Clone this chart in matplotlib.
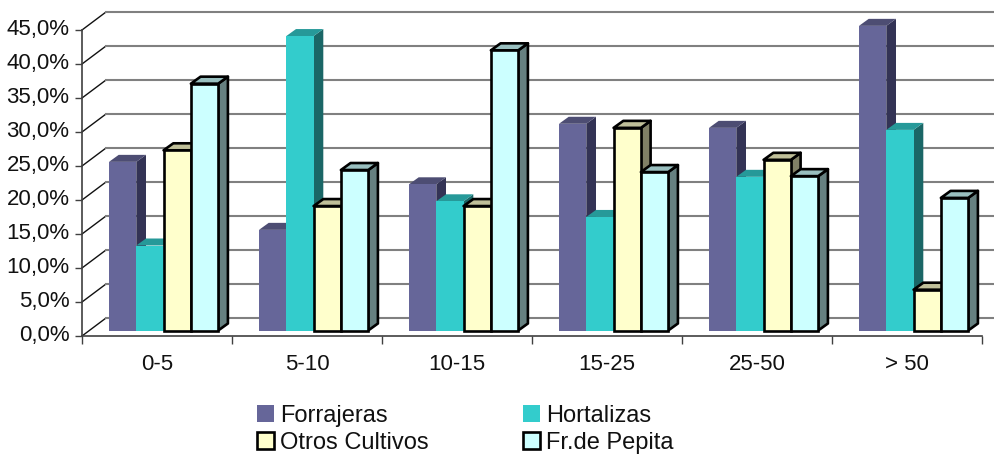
import matplotlib.pyplot as plt
from matplotlib.patches import Patch, Polygon
from matplotlib.transforms import ScaledTranslation

categories = ["0-5", "5-10", "10-15", "15-25", "25-50", "> 50"]
forrajeras = [24.8, 14.8, 21.5, 30.4, 29.8, 44.8]
hortalizas = [12.5, 43.3, 19.0, 16.7, 22.6, 29.5]
otros = [26.5, 18.3, 18.3, 29.8, 25.1, 6.0]
pepita = [36.3, 23.6, 41.2, 23.3, 22.7, 19.5]
y_ticks = [0, 5, 10, 15, 20, 25, 30, 35, 40, 45]

W, H = 995, 458
PX_X = 150.0  # pixels per category
PX_Y = 6.8  # pixels per percent point
FONT = ["Liberation Sans", "DejaVu Sans"]


def px_dx(p):
    return p / PX_X


def px_dy(p):
    return p / PX_Y


plt.rcParams["font.family"] = FONT

fig = plt.figure(figsize=(W / 100, H / 100), dpi=100)
ax = fig.add_axes([82 / W, 1 - 336 / H, 900 / W, 306 / H])
ax.set_xlim(0, 6)
ax.set_ylim(0, 45)
ax.patch.set_visible(False)

# back wall and side wall grid
wall_dx, wall_dy = px_dx(24), px_dy(18)
for tick in y_ticks:
    ax.plot([0, wall_dx], [tick, tick + wall_dy], color="#111111", lw=1.0,
            clip_on=False, zorder=1)
    ax.plot([wall_dx, 6 + wall_dx], [tick + wall_dy] * 2, color="#808080", lw=1.5,
            clip_on=False, zorder=1)

series = [
    ("Forrajeras", forrajeras, "#666699", "#333355", "#4D4D73", "none"),
    ("Hortalizas", hortalizas, "#33CCCC", "#1A6666", "#269999", "none"),
    ("Otros Cultivos", otros, "#FFFFCC", "#808066", "#BFBF99", "black"),
    ("Fr.de Pepita", pepita, "#CCFFFF", "#668080", "#99BFBF", "black"),
]

bar_w = px_dx(27.3)
base_dx, base_dy = px_dx(6.5), px_dy(5.5)
depth_dx, depth_dy = px_dx(9.7), px_dy(7)
margin = px_dx(20.5)

z = 2
for cat in range(len(categories)):
    for s, (name, values, front, side, top, edge) in enumerate(series):
        x0 = cat + base_dx + margin + s * bar_w
        x1 = x0 + bar_w
        y0 = base_dy
        y1 = base_dy + values[cat]
        lw = 1.9 if edge != "none" else 0
        side_pts = [(x1, y0), (x1 + depth_dx, y0 + depth_dy), (x1 + depth_dx, y1 + depth_dy), (x1, y1)]
        top_pts = [(x0, y1), (x0 + depth_dx, y1 + depth_dy), (x1 + depth_dx, y1 + depth_dy), (x1, y1)]
        ax.add_patch(Polygon(side_pts, facecolor=side, edgecolor=edge, lw=lw, zorder=z,
                             clip_on=False, joinstyle="round"))
        ax.add_patch(Polygon(top_pts, facecolor=top, edgecolor=edge, lw=lw, zorder=z,
                             clip_on=False, joinstyle="round"))
        ax.bar(x0, values[cat], width=bar_w, bottom=y0, align="edge", color=front,
               edgecolor=edge, linewidth=lw, zorder=z + 0.5, clip_on=False)
        z += 1

for name in ["top", "right"]:
    ax.spines[name].set_visible(False)
for name in ["left", "bottom"]:
    ax.spines[name].set_color("#404040")
    ax.spines[name].set_linewidth(1.2)
    ax.spines[name].set_zorder(1.5)

ax.set_yticks(y_ticks)
ax.set_yticklabels([f"{t:.1f}%".replace(".", ",") for t in y_ticks], fontsize=16, color="#111111")
ax.set_xticks(range(7))
ax.set_xticklabels([])
ax.set_xticks([i + 0.5 for i in range(6)], minor=True)
ax.set_xticklabels(categories, minor=True, fontsize=16, color="#111111")
ax.tick_params(axis="y", length=5, width=1.0, color="#404040", pad=4)
ax.tick_params(axis="x", which="major", length=6, width=1.0, color="#404040")
ax.tick_params(axis="x", which="minor", length=0, pad=13)

# tick labels sit a little above their ticks in the original
nudge = ScaledTranslation(0, 2.5 / 100, fig.dpi_scale_trans)
for label in ax.get_yticklabels():
    label.set_transform(label.get_transform() + nudge)

handles = [
    Patch(facecolor=front, edgecolor=edge if edge != "none" else front,
          linewidth=1.9 if edge != "none" else 0, label=name)
    for name, values, front, side, top, edge in series
]
# filled column by column so the order reads across as in the original
fig.legend(
    [handles[0], handles[2], handles[1], handles[3]],
    [series[0][0], series[2][0], series[1][0], series[3][0]],
    ncol=2,
    loc="upper left",
    bbox_to_anchor=(257 / W, 1 - 405 / H),
    frameon=False,
    fontsize=17,
    handlelength=0.72,
    handleheight=0.72,
    handletextpad=0.25,
    columnspacing=4.0,
    labelspacing=0.2,
    borderpad=0,
    borderaxespad=0,
    labelcolor="#111111",
)

fig.savefig("out.png", dpi=100)
